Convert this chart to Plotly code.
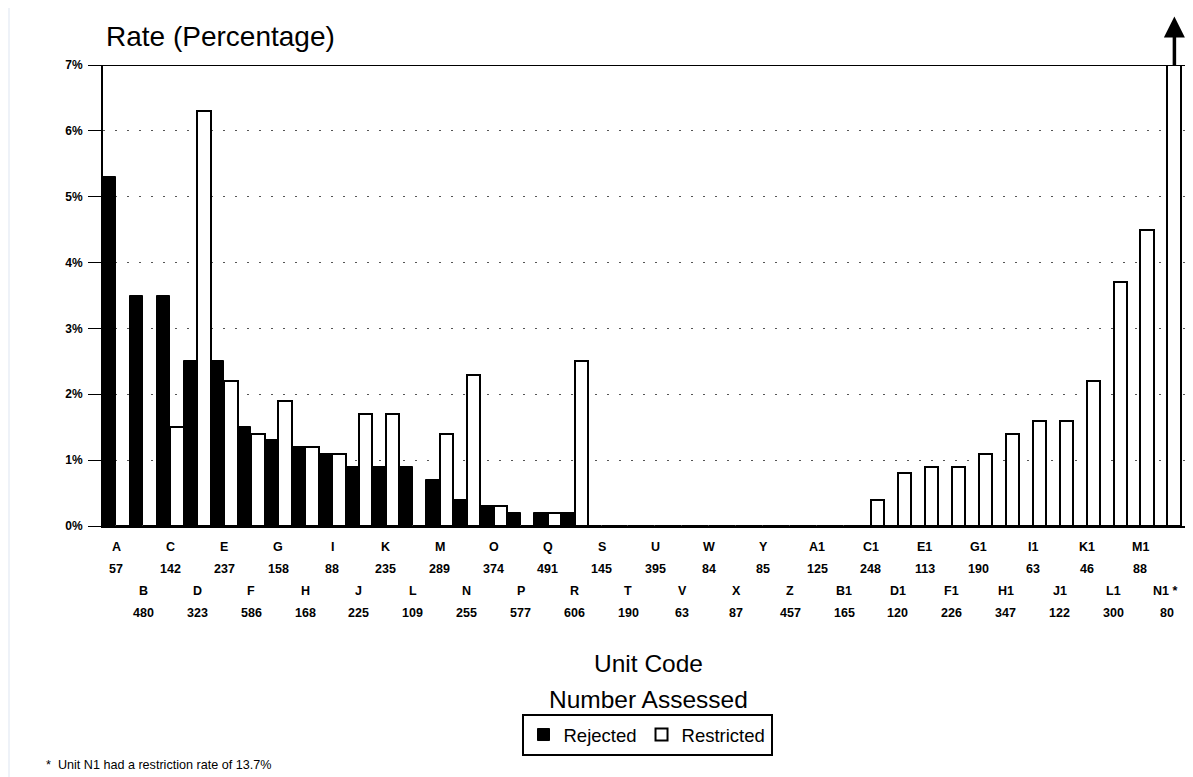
import plotly.graph_objects as go

units = ["A", "B", "C", "D", "E", "F", "G", "H", "I", "J", "K", "L", "M", "N", "O", "P",
         "Q", "R", "S", "T", "U", "V", "W", "X", "Y", "Z", "A1", "B1", "C1", "D1", "E1",
         "F1", "G1", "H1", "I1", "J1", "K1", "L1", "M1", "N1"]
unit_labels = units[:-1] + ["N1 *"]
number_assessed = [57, 480, 142, 323, 237, 586, 158, 168, 88, 225, 235, 109, 289, 255, 374, 577,
                   491, 606, 145, 190, 395, 63, 84, 87, 85, 457, 125, 165, 248, 120, 113,
                   226, 190, 347, 63, 122, 46, 300, 88, 80]
rejected = [5.3, 3.5, 3.5, 2.5, 2.5, 1.5, 1.3, 1.2, 1.1, 0.9, 0.9, 0.9, 0.7, 0.4, 0.3, 0.2,
            0.2, 0.2, 0, 0, 0, 0, 0, 0, 0, 0, 0, 0, 0, 0, 0,
            0, 0, 0, 0, 0, 0, 0, 0, 0]
restricted = [0, 0, 1.5, 6.3, 2.2, 1.4, 1.9, 1.2, 1.1, 1.7, 1.7, 0, 1.4, 2.3, 0.3, 0,
              0.2, 2.5, 0, 0, 0, 0, 0, 0, 0, 0, 0, 0, 0.4, 0.8, 0.9,
              0.9, 1.1, 1.4, 1.6, 1.6, 2.2, 3.7, 4.5, 13.7]
y_ticks = [0, 1, 2, 3, 4, 5, 6, 7]
y_ticktext = [f"{v}%" for v in y_ticks]
y_max = 7

OFF = 8  # page body margin
W, H = 1193 - OFF, 777 - OFF
L, R, T, B = 103 - OFF, 6, 65 - OFF, 777 - 526
PW, PH = W - L - R, H - T - B


def px(xp):  # page pixel -> paper x
    return (xp - OFF - L) / PW


def py(yp):  # page pixel -> paper y
    return (H - B - (yp - OFF)) / PH


FONT = "Liberation Sans, Arial, Helvetica, sans-serif"

fig = go.Figure()
fig.add_bar(x=units, y=rejected, name="Rejected",
            marker=dict(color="black", line=dict(color="black", width=1)))
fig.add_bar(x=units, y=restricted, name="Restricted",
            marker=dict(color="white", line=dict(color="black", width=2)))

ann = []
for i, (u, n) in enumerate(zip(unit_labels, number_assessed)):
    row = i % 2
    ly = 547 if row == 0 else 591
    ny = 569 if row == 0 else 613
    ann.append(dict(x=units[i], xref="x", y=py(ly), yref="paper", text=u, showarrow=False,
                    xanchor="center", yanchor="middle",
                    xshift=-2 if u.endswith("*") else 0,
                    font=dict(size=12.5, family=FONT, color="black", weight=700)))
    ann.append(dict(x=units[i], xref="x", y=py(ny), yref="paper", text=str(n), showarrow=False,
                    xanchor="center", yanchor="middle",
                    font=dict(size=12.5, family=FONT, color="black", weight=700)))

ann.append(dict(x=px(104), xref="paper", y=py(37), yref="paper", text="Rate (Percentage)",
                showarrow=False, xanchor="left", yanchor="middle",
                font=dict(size=28, family=FONT, color="black")))
ann.append(dict(x=px(648), xref="paper", y=py(663), yref="paper", text="Unit Code",
                showarrow=False, xanchor="center", yanchor="middle",
                font=dict(size=24.5, family=FONT, color="black")))
ann.append(dict(x=px(648), xref="paper", y=py(699), yref="paper", text="Number Assessed",
                showarrow=False, xanchor="center", yanchor="middle",
                font=dict(size=24.5, family=FONT, color="black")))
ann.append(dict(x=px(44), xref="paper", y=py(765), yref="paper",
                text="*  Unit N1 had a restriction rate of 13.7%",
                showarrow=False, xanchor="left", yanchor="middle",
                font=dict(size=12.6, family=FONT, color="black")))
# arrow showing N1 exceeds the axis (head drawn at the tail end, pointing up)
ann.append(dict(x=units[-1], xref="x", y=y_max, yref="y", text="", showarrow=True,
                ax=0, ay=-50, xshift=7, arrowside="start",
                startarrowhead=2, arrowwidth=3.5, startarrowsize=1.2, arrowcolor="black"))

shapes = [
    dict(type="rect", xref="paper", yref="paper", x0=px(OFF), x1=px(10), y0=py(777), y1=py(OFF),
         fillcolor="#eef2f8", line=dict(width=0), layer="below"),
    dict(type="line", xref="paper", yref="y", x0=0, x1=1, y0=y_max, y1=y_max,
         line=dict(color="black", width=2)),
]

fig.update_layout(
    width=W, height=H,
    margin=dict(l=L, r=R, t=T, b=B, pad=0),
    paper_bgcolor="white", plot_bgcolor="white",
    barmode="group", bargap=0, bargroupgap=0,
    font=dict(family=FONT, color="black"),
    annotations=ann, shapes=shapes,
    legend=dict(orientation="h", x=px(647), xanchor="center", y=py(714), yanchor="top",
                bordercolor="black", borderwidth=2, bgcolor="white",
                font=dict(size=18.5, family=FONT, color="black"),
                itemwidth=30, tracegroupgap=0),
    xaxis=dict(showticklabels=False, ticks="", showgrid=False, showline=True,
               linecolor="black", linewidth=2, zeroline=False, fixedrange=True),
    yaxis=dict(range=[0, y_max], tickvals=y_ticks, ticktext=y_ticktext, ticks="outside",
               ticklen=13, tickwidth=1, tickcolor="black", ticklabelstandoff=3,
               showline=True, linecolor="black", linewidth=2,
               showgrid=True, gridcolor="#555555", griddash="2px,10px", gridwidth=1,
               zeroline=False,
               tickfont=dict(size=12, family=FONT, color="black", weight=700)),
)

fig.write_html("out.html")
